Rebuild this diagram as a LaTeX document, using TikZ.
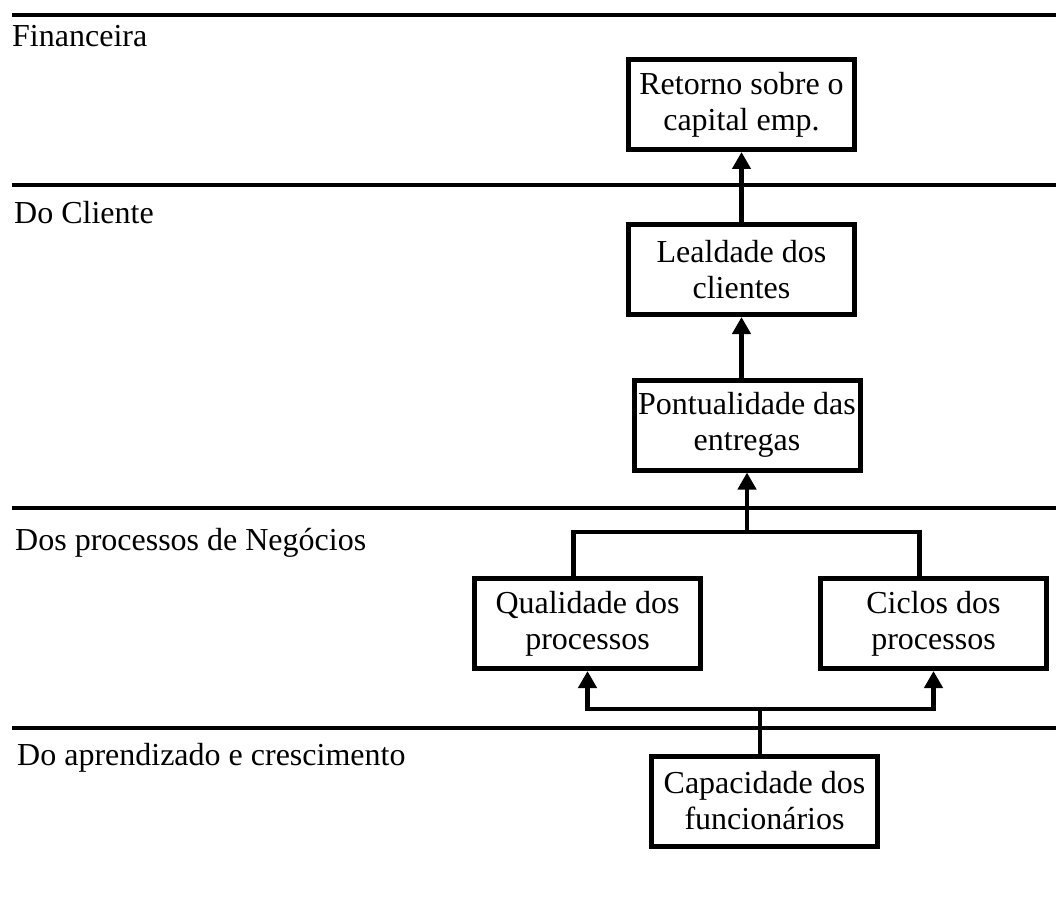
\documentclass[tikz,border=0pt]{standalone}
\usepackage{fontspec}
\setmainfont{Liberation Serif}
\usetikzlibrary{arrows.meta}
\begin{document}
\begin{tikzpicture}[x=1pt,y=-1pt,
  box/.style={draw,line width=5pt,minimum width=226pt,minimum height=90pt,
    inner sep=0pt,align=center,font=\fontsize{32}{36}\selectfont},
  lane/.style={anchor=base west,inner sep=0pt,font=\fontsize{32}{36}\selectfont},
  sep/.style={line width=4.5pt},
  conn/.style={line width=4.5pt},
  arr/.style={conn,-{Triangle[length=17pt,width=18pt]}}]
\useasboundingbox (0,0) rectangle (1056,896);

% perspective separators
\draw[sep] (12,15) -- (1056,15);
\draw[sep] (12,185) -- (1056,185);
\draw[sep] (12,508) -- (1056,508);
\draw[sep] (12,728) -- (1056,728);

% perspective names
\node[lane] (lfin) at (12,47) {Financeira};
\node[lane] (lcli) at (14,223) {Do Cliente};
\node[lane] (lpro) at (15,550) {Dos processos de Negócios};
\node[lane] (lapr) at (17,765) {Do aprendizado e crescimento};

% objectives
\node[box] (ret) at (741.5,104.5) {Retorno sobre o\\capital emp.};
\node[box] (lea) at (741.5,269.5) {Lealdade dos\\clientes};
\node[box] (pon) at (747,425) {Pontualidade das\\entregas};
\node[box] (qua) at (587.5,623.5) {Qualidade dos\\processos};
\node[box] (cic) at (933.5,623.5) {Ciclos dos\\processos};
\node[box] (cap) at (764.5,801) {Capacidade dos\\funcionários};

% cause and effect links
\draw[arr] (lea.north) -- (ret.south);
\draw[arr] (lea.south |- pon.north) -- (lea.south);

\coordinate (fk) at (747,532);
\draw[conn] ([xshift=-14pt]qua.north) |- (fk) -| ([xshift=-14pt]cic.north);
\draw[arr] (fk) -- (pon.south);

\coordinate (jn) at (760,709);
\draw[conn] (cap.north -| jn) -- (jn);
\draw[arr] (jn) -| (qua.south);
\draw[arr] (jn) -| (cic.south);
\end{tikzpicture}
\end{document}
